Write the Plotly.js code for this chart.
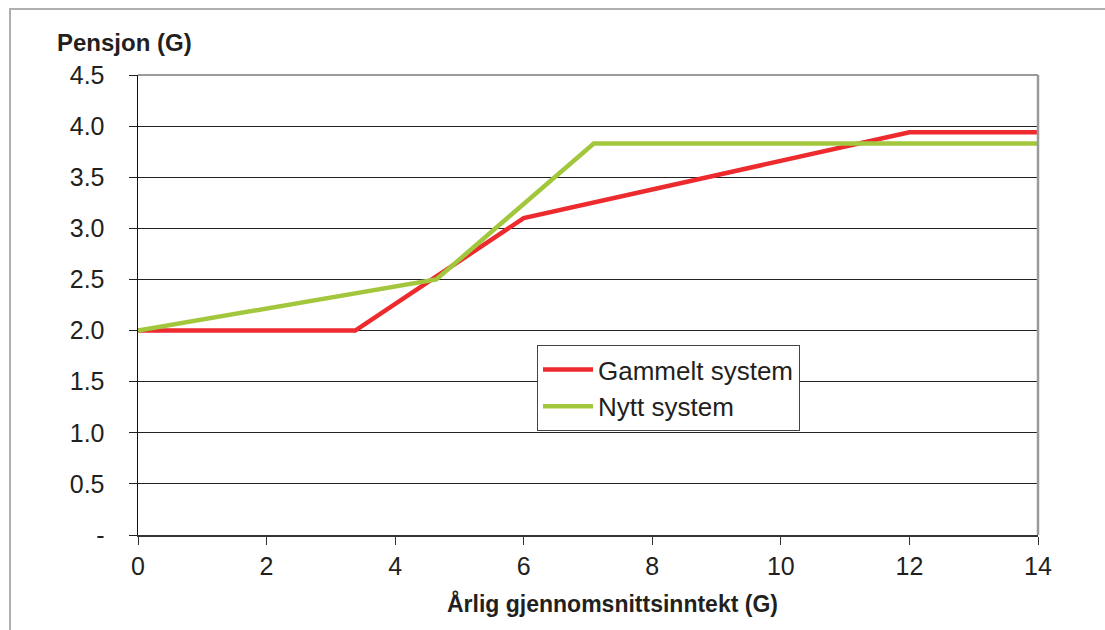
<!DOCTYPE html>
<html>
<head>
<meta charset="utf-8">
<script src="https://cdn.plot.ly/plotly-3.0.1.min.js"></script>
<style>html,body{margin:0;padding:0;background:#fff;}#chart{width:1105px;height:630px;}</style>
</head>
<body>
<div id="chart"></div>
<script>
const incomeOld = [0, 3.38, 6, 12, 14];
const pensionOld = [2.0, 2.0, 3.1, 3.94, 3.94];
const incomeNew = [0, 4.64, 7.09, 14];
const pensionNew = [2.0, 2.5, 3.83, 3.83];
const seriesNames = ["Gammelt system", "Nytt system"];
const yTickVals = [0, 0.5, 1.0, 1.5, 2.0, 2.5, 3.0, 3.5, 4.0, 4.5];
const yTickText = ["-", "0.5", "1.0", "1.5", "2.0", "2.5", "3.0", "3.5", "4.0", "4.5"];
const xTickVals = [0, 2, 4, 6, 8, 10, 12, 14];

const FONT = "Liberation Sans, Arial, sans-serif";
const TXT = "#231f20";

const traces = [
  {x: incomeOld, y: pensionOld, name: seriesNames[0], mode: "lines",
   line: {color: "#ED2A2E", width: 4.5}},
  {x: incomeNew, y: pensionNew, name: seriesNames[1], mode: "lines",
   line: {color: "#A3C73C", width: 4.5}}
];

const layout = {
  width: 1105, height: 630,
  margin: {l: 138, r: 67, t: 75, b: 95},
  paper_bgcolor: "#fff", plot_bgcolor: "#fff",
  font: {family: FONT, color: TXT, size: 25},
  showlegend: true,
  legend: {x: (537 - 138) / 900, y: (535 - 345) / 460, xanchor: "left", yanchor: "top",
    bordercolor: "#444", borderwidth: 1, bgcolor: "#fff", itemwidth: 50,
    font: {size: 26, family: FONT, color: TXT}, tracegroupgap: 0},
  xaxis: {range: [0, 14], tickvals: xTickVals, ticks: "outside", ticklen: 8,
    tickcolor: "#333", showline: true, linecolor: "#333", linewidth: 2,
    showgrid: false, zeroline: false, tickfont: {size: 25, family: FONT, color: TXT},
    fixedrange: true},
  yaxis: {range: [0, 4.5], tickvals: yTickVals, ticktext: yTickText,
    ticks: "outside", ticklen: 8, tickcolor: "#222", showline: true,
    linecolor: "#111", linewidth: 1.5, showgrid: true, gridcolor: "#222",
    gridwidth: 1, zeroline: false, tickfont: {size: 25, family: FONT, color: TXT},
    ticklabelstandoff: 19, fixedrange: true},
  shapes: [
    {type: "line", xref: "paper", yref: "paper", x0: 0, x1: 1, y0: 1, y1: 1,
     line: {color: "#9a9a9a", width: 2}},
    {type: "line", xref: "paper", yref: "paper", x0: 1, x1: 1, y0: 0, y1: 1,
     line: {color: "#9a9a9a", width: 2.5}, layer: "above"},
    {type: "rect", xref: "paper", yref: "paper",
     x0: (10 - 138) / 900, x1: (1120 - 138) / 900,
     y0: (535 - 645) / 460, y1: (535 - 9) / 460,
     line: {color: "#b0b0b0", width: 2}, fillcolor: "rgba(0,0,0,0)"}
  ],
  annotations: [
    {text: "<b>Pensjon (G)</b>", xref: "paper", yref: "paper",
     x: (55 - 138) / 900, y: (535 - 43) / 460, xanchor: "left", yanchor: "middle",
     showarrow: false, font: {size: 24, family: FONT, color: TXT}},
    {text: "<b>Årlig gjennomsnittsinntekt (G)</b>", xref: "paper", yref: "paper",
     x: (612 - 138) / 900, y: (535 - 603) / 460, xanchor: "center", yanchor: "middle",
     showarrow: false, font: {size: 23, family: FONT, color: TXT}}
  ]
};

Plotly.newPlot("chart", traces, layout, {displayModeBar: false, staticPlot: true});
</script>
</body>
</html>
